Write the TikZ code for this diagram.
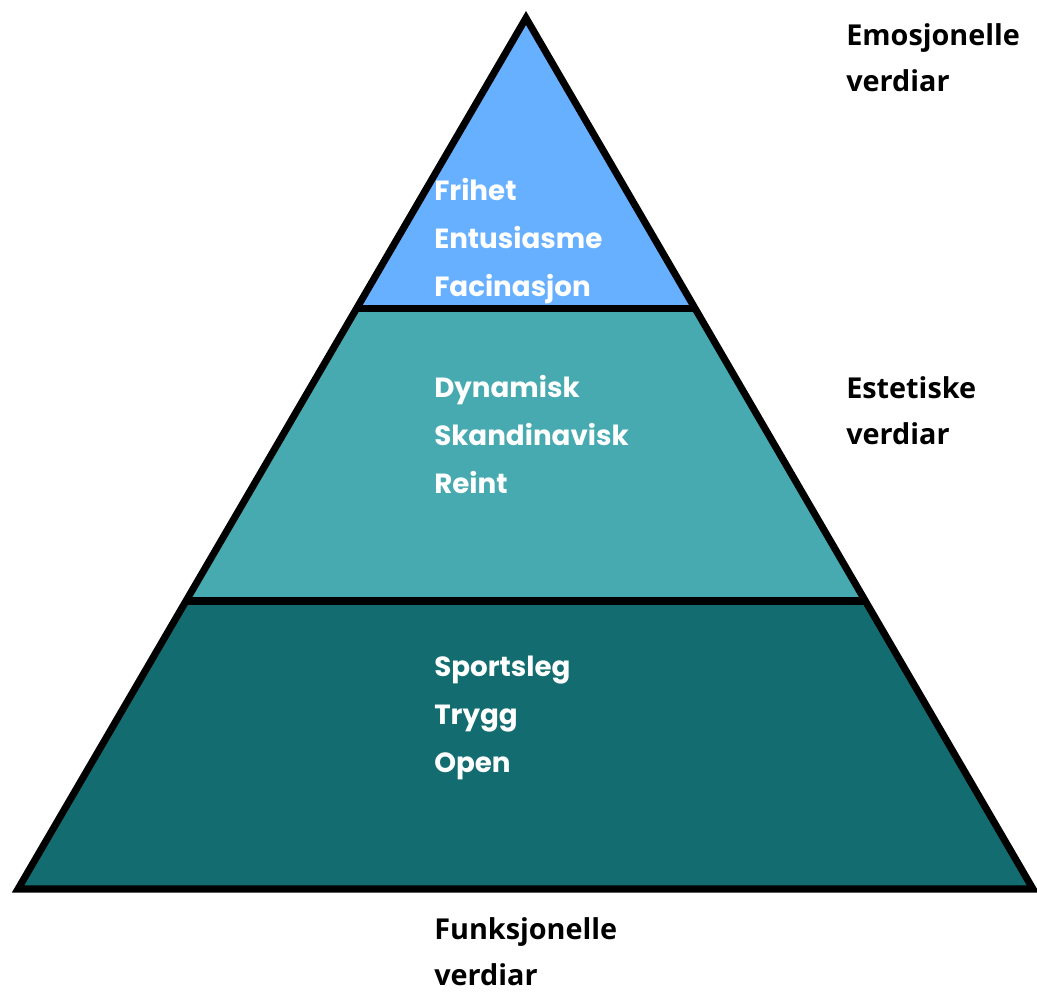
\documentclass[tikz,border=0pt]{standalone}
\usepackage{fontspec}
\setmainfont{Poppins}
\newfontfamily\labfont{Open Sans}
\usepackage{xcolor}
\usetikzlibrary{positioning,calc}
\definecolor{TopBlue}{RGB}{102,176,255}
\definecolor{MidTeal}{RGB}{70,170,176}
\definecolor{LowTeal}{RGB}{18,108,112}

\begin{document}
\begin{tikzpicture}[x=0.75pt, y=-0.75pt,
    edge/.style={draw=black, line width=5.3pt, line join=miter},
    words/.style={anchor=base west, inner sep=0pt, align=left, text=white,
                  font=\bfseries\fontsize{20.8}{36}\selectfont},
    side/.style={anchor=base west, inner sep=0pt, align=left, text=black,
                 font=\labfont\bfseries\fontsize{21.6}{34}\selectfont}
]
    \useasboundingbox (0,0) rectangle (1037,992);
    % corners of the pyramid
    \coordinate (apex) at (526,18);
    \coordinate (bl) at (18,889);
    \coordinate (br) at (1033,889);
    % level dividers
    \coordinate (l1) at ($(bl)!0.3307!(apex)$);
    \coordinate (r1) at ($(br)!0.3307!(apex)$);
    \coordinate (l2) at ($(bl)!0.667!(apex)$);
    \coordinate (r2) at ($(br)!0.667!(apex)$);

    \fill[LowTeal] (bl) -- (br) -- (r1) -- (l1) -- cycle;
    \fill[MidTeal] (l1) -- (r1) -- (r2) -- (l2) -- cycle;
    \fill[TopBlue] (l2) -- (r2) -- (apex) -- cycle;
    \draw[edge] (bl) -- (br) -- (apex) -- cycle;
    \draw[edge] (l1) -- (r1);
    \draw[edge] (l2) -- (r2);

    % anchors sit on the last line of each block
    \node[words] (emo) at (434,296) {Frihet\\Entusiasme\\Facinasjon};
    \node[words] (est) at (434,493) {Dynamisk\\Skandinavisk\\Reint};
    \node[words] (fun) at (434,772) {Sportsleg\\Trygg\\Open};

    \node[side] (emolab) at (846,91) {Emosjonelle\\verdiar};
    \node[side] (estlab) at (846,444) {Estetiske\\verdiar};
    \node[side] (funlab) at (434,985) {Funksjonelle\\verdiar};
\end{tikzpicture}
\end{document}
